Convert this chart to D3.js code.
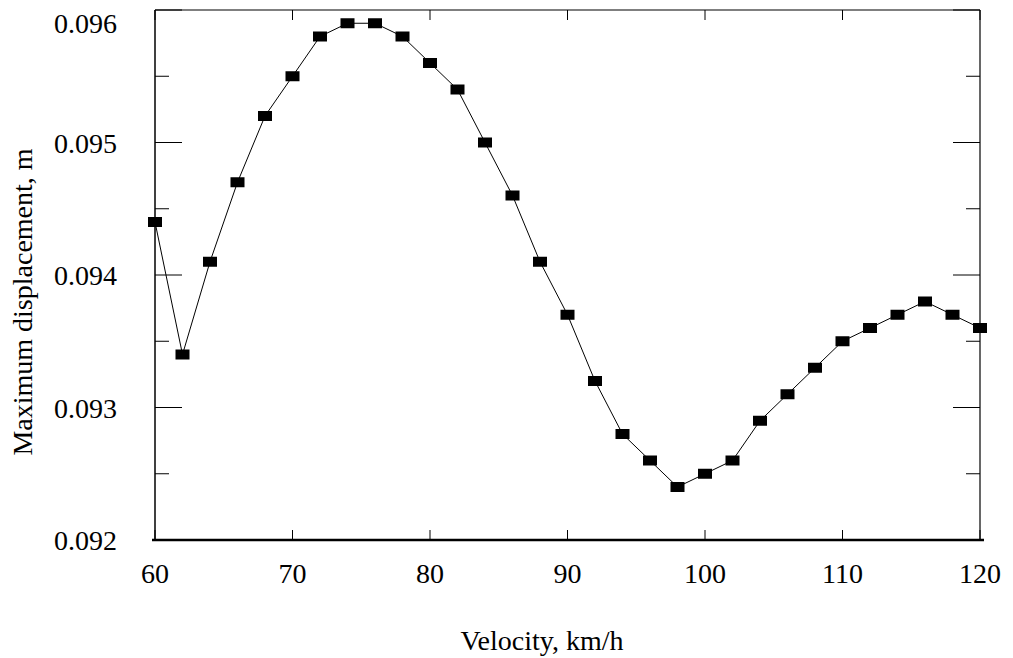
<!DOCTYPE html>
<html>
<head>
<meta charset="utf-8">
<script src="https://cdn.jsdelivr.net/npm/d3@7"></script>
<style>
  html, body { margin: 0; padding: 0; background: #fff; }
  svg { display: block; }
  text { font-family: "Liberation Serif", "Times New Roman", serif; fill: #000; }
</style>
</head>
<body>
<svg id="chart" width="1013" height="658"></svg>
<script>
// Velocity (km/h) sampled every 2 km/h
const velocity = [60, 62, 64, 66, 68, 70, 72, 74, 76, 78, 80, 82, 84, 86, 88, 90,
                  92, 94, 96, 98, 100, 102, 104, 106, 108, 110, 112, 114, 116, 118, 120];
// Maximum displacement (m) at each velocity
const displacement = [0.0944, 0.0934, 0.0941, 0.0947, 0.0952, 0.0955, 0.0958, 0.0959,
                      0.0959, 0.0958, 0.0956, 0.0954, 0.0950, 0.0946, 0.0941, 0.0937,
                      0.0932, 0.0928, 0.0926, 0.0924, 0.0925, 0.0926, 0.0929, 0.0931,
                      0.0933, 0.0935, 0.0936, 0.0937, 0.0938, 0.0937, 0.0936];
const xTicks = [60, 70, 80, 90, 100, 110, 120];
const yMajorTicks = [0.092, 0.093, 0.094, 0.095, 0.096];
const yMinorTicks = [0.0925, 0.0935, 0.0945, 0.0955];

const plotLeft = 155, plotRight = 980, plotTop = 10, plotBottom = 540;
const svg = d3.select("#chart");

const x = d3.scaleLinear().domain([60, 120]).range([plotLeft, plotRight]);
const y = d3.scaleLinear().domain([0.092, 0.096]).range([plotBottom, plotTop]);

// frame
svg.append("line").attr("x1", plotLeft).attr("x2", plotRight).attr("y1", plotTop).attr("y2", plotTop)
  .attr("stroke", "#000").attr("stroke-width", 1.2);
svg.append("line").attr("x1", plotRight).attr("x2", plotRight).attr("y1", plotTop).attr("y2", plotBottom)
  .attr("stroke", "#000").attr("stroke-width", 1.2);
svg.append("line").attr("x1", plotLeft).attr("x2", plotLeft).attr("y1", plotTop).attr("y2", plotBottom)
  .attr("stroke", "#000").attr("stroke-width", 1.5);

// ticks on all four sides
const tickG = svg.append("g").attr("stroke", "#000").attr("stroke-width", 1);
xTicks.forEach(v => {
  tickG.append("line").attr("x1", x(v)).attr("x2", x(v)).attr("y1", plotBottom).attr("y2", plotBottom - 10);
  tickG.append("line").attr("x1", x(v)).attr("x2", x(v)).attr("y1", plotTop).attr("y2", plotTop + 10);
});
yMajorTicks.forEach(v => {
  tickG.append("line").attr("x1", plotLeft).attr("x2", plotLeft + 27).attr("y1", y(v)).attr("y2", y(v));
  tickG.append("line").attr("x1", plotRight).attr("x2", plotRight - 27).attr("y1", y(v)).attr("y2", y(v));
});
yMinorTicks.forEach(v => {
  tickG.append("line").attr("x1", plotLeft).attr("x2", plotLeft + 14).attr("y1", y(v)).attr("y2", y(v));
  tickG.append("line").attr("x1", plotRight).attr("x2", plotRight - 14).attr("y1", y(v)).attr("y2", y(v));
});

// heavy baseline
svg.append("line").attr("x1", plotLeft - 3).attr("x2", plotRight + 4).attr("y1", plotBottom).attr("y2", plotBottom)
  .attr("stroke", "#000").attr("stroke-width", 2.4);

// tick labels
svg.append("g").selectAll("text").data(xTicks).join("text")
  .attr("x", d => x(d)).attr("y", 583)
  .attr("text-anchor", "middle").attr("font-size", 28)
  .text(d => d);
svg.append("g").selectAll("text").data(yMajorTicks).join("text")
  .attr("x", 117).attr("y", d => Math.max(y(d), 23) + 10)
  .attr("text-anchor", "end").attr("font-size", 28)
  .text(d => d3.format(".3f")(d));

// axis titles
svg.append("text").attr("x", 542).attr("y", 650)
  .attr("text-anchor", "middle").attr("font-size", 28)
  .text("Velocity, km/h");
svg.append("text").attr("transform", "translate(32,302) rotate(-90)")
  .attr("text-anchor", "middle").attr("font-size", 28)
  .text("Maximum displacement, m");

// data line and square markers
const pts = velocity.map((v, i) => [v, displacement[i]]);
const plot = svg.append("g");
plot.append("path").datum(pts)
  .attr("fill", "none").attr("stroke", "#000").attr("stroke-width", 1)
  .attr("d", d3.line().x(d => x(d[0])).y(d => y(d[1])));
plot.selectAll("rect").data(pts).join("rect")
  .attr("x", d => x(d[0]) - 7).attr("y", d => y(d[1]) - 5)
  .attr("width", 14).attr("height", 10)
  .attr("fill", "#000");
</script>
</body>
</html>
